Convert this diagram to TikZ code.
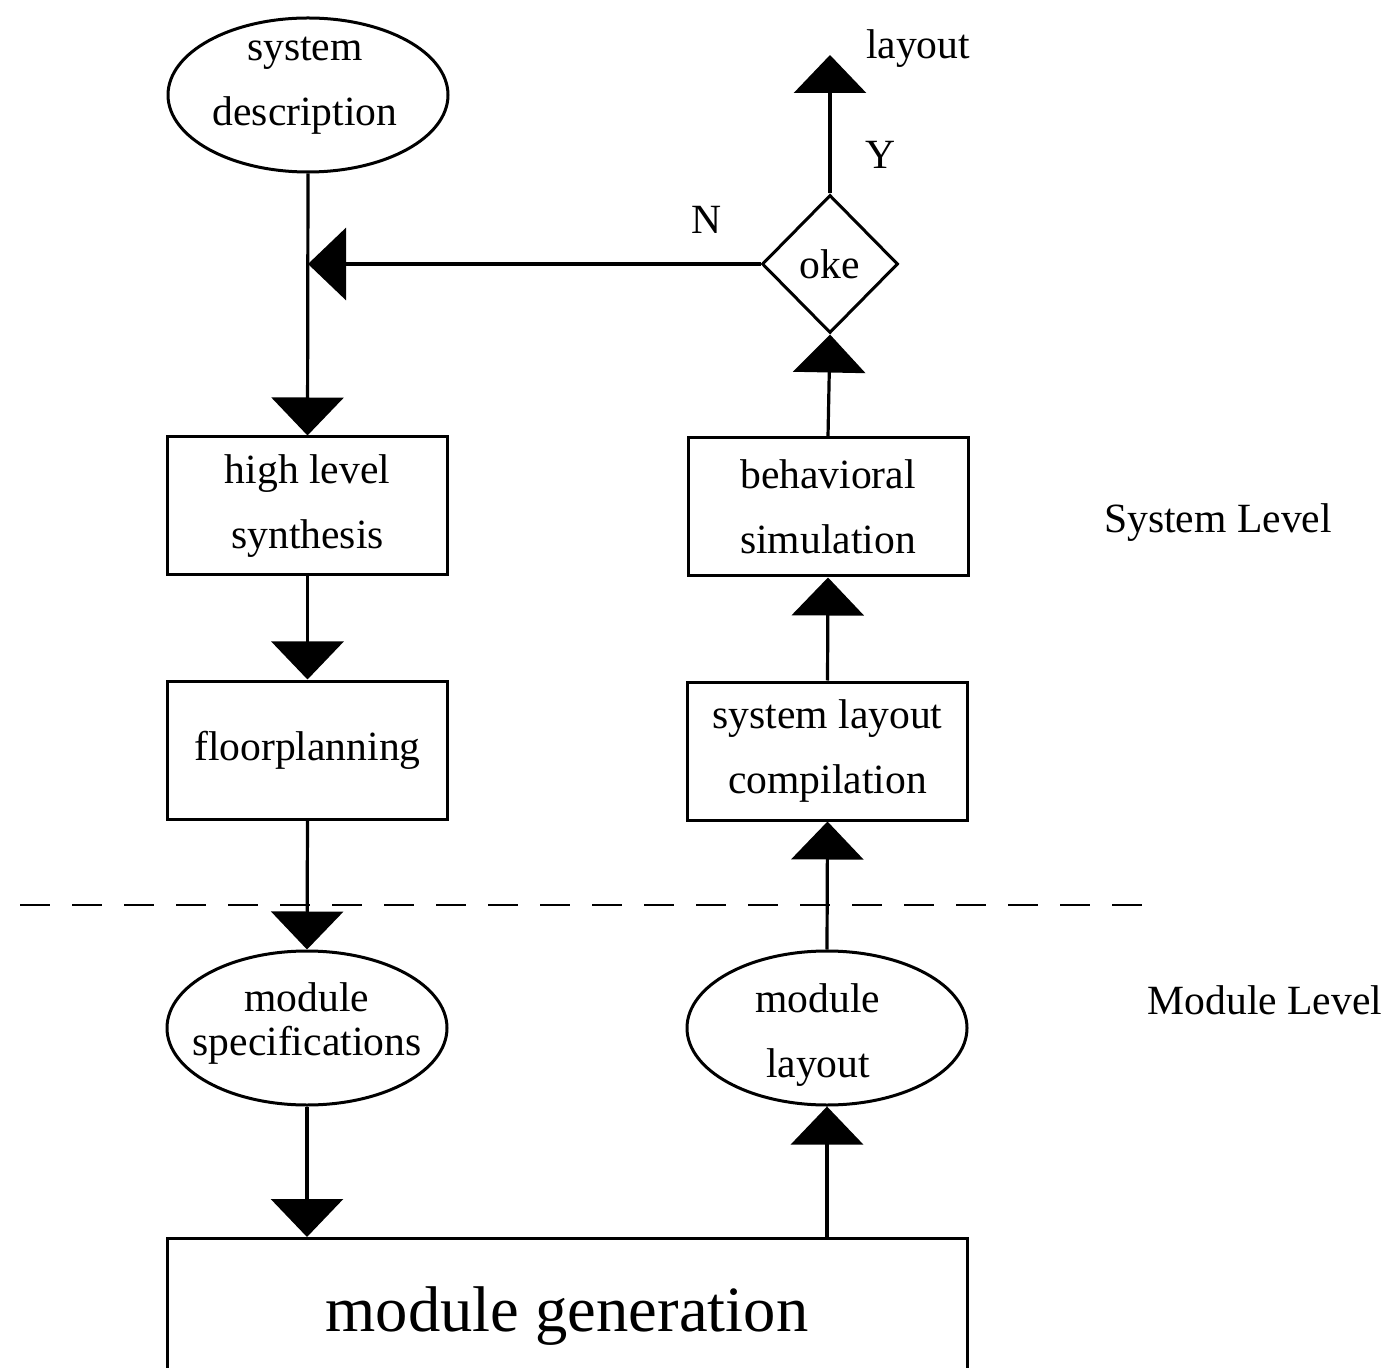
\documentclass[tikz,border=0pt]{standalone}
\usepackage{fontspec}
\setmainfont{Liberation Serif}
\usetikzlibrary{arrows.meta,shapes.geometric}
\begin{document}
\begin{tikzpicture}[x=0.5pt,y=-0.5pt,
  every node/.style={font=\fontsize{20.8}{32.5}\selectfont, inner sep=0pt},
  box/.style={draw, line width=1.5pt, minimum width=140pt, minimum height=69pt, align=center},
  ell/.style={draw, ellipse, line width=1.5pt, minimum width=140pt, minimum height=77pt},
  etext/.style={align=center},
  dia/.style={draw, diamond, line width=1.5pt, minimum width=68pt, minimum height=69pt},
  arr/.style={line width=1.6pt, -{Triangle[width=36pt,length=19pt]}},
  lab/.style={}
]
\clip (0,0) rectangle (1391,1368);
\fill[white] (0,0) rectangle (1391,1368);

% left column
\node[ell] (sysdesc) at (308,95) {};
\node[etext] (sysdesct) at (305,86) {system\\description};
\node[box] (hls) at (307.5,506) {high level\\synthesis};
\node[box] (floor) at (307.5,750) {floorplanning};
\node[ell] (modspec) at (307,1028) {};
\node[etext, font=\fontsize{20.8}{22}\selectfont] (modspect) at (307,1023) {module\\specifications};
\node[draw, line width=1.5pt, minimum width=400pt, minimum height=78pt, anchor=north,
      font=\fontsize{32.3}{38}\selectfont] (gen) at (567,1237) {module generation};

% right column
\node[ell] (modlay) at (827,1028) {};
\node[etext] (modlayt) at (818,1035) {module\\layout};
\node[box] (slc) at (827.5,751) {system layout\\compilation};
\node[box] (bsim) at (828,507) {behavioral\\simulation};
\node[dia] (oke) at (830,264) {oke};
\coordinate (out) at (830,55);
\coordinate (join) at (308,264);

% labels
\node[lab] (laylab) at (918,49) {layout};
\node[lab] (ylab) at (881,155) {Y};
\node[lab] (nlab) at (707,220) {N};
\node[lab] (syslev) at (1218,523) {System Level};
\node[lab] (modlev) at (1265,1000) {Module Level};

% left connectors
\draw[arr] (sysdesc.south) -- (hls.north);
\draw[arr] (hls.south) -- (floor.north);
\draw[arr] (floor.south) -- (modspec.north);
\draw[arr] (modspec.south) -- (modspec.south |- gen.north);

% right connectors
\draw[arr] (gen.north -| modlay.south) -- (modlay.south);
\draw[arr] (modlay.north) -- (slc.south);
\draw[arr] (slc.north) -- (bsim.south);
\draw[arr] (bsim.north) -- (oke.south);
\draw[arr] (oke.north) -- (out);
\draw[arr] (oke.west) -- (join);

% dashed separator
\draw[line width=1.4pt, dash pattern=on 15pt off 11pt] (20,905) -- (1150,905);
\end{tikzpicture}
\end{document}
